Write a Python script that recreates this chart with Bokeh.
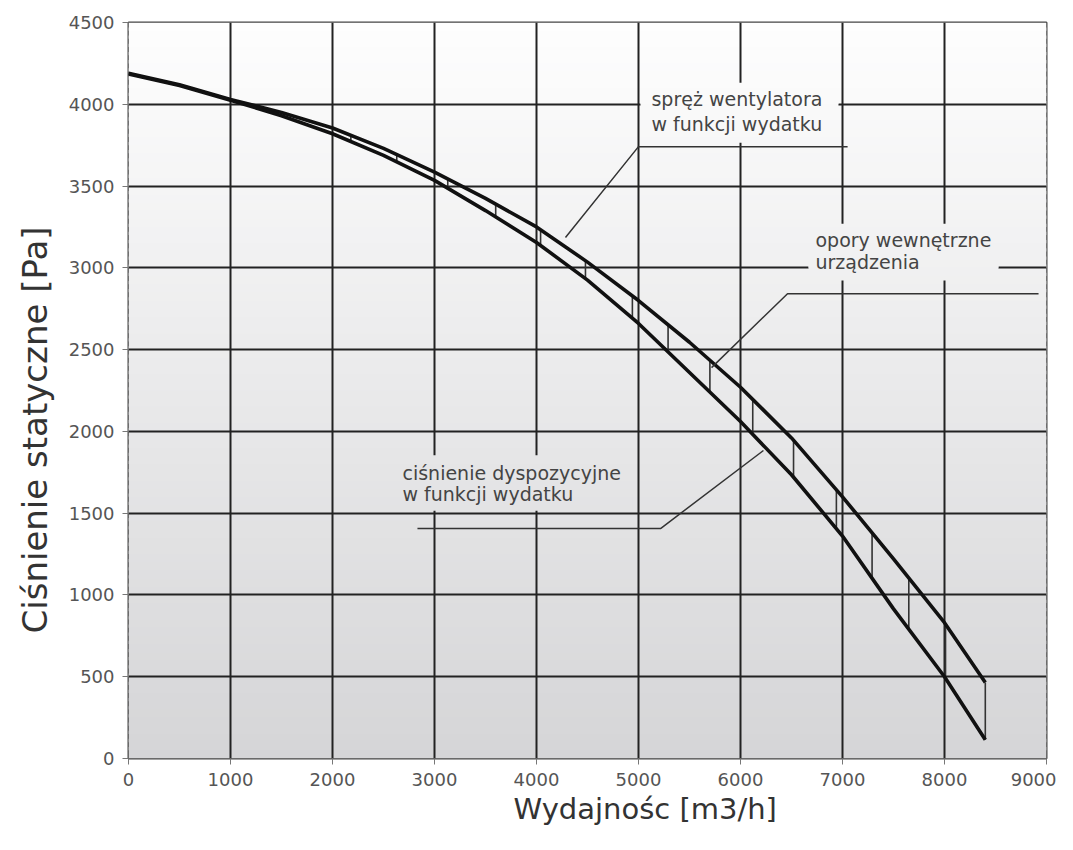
import numpy as np
from bokeh.plotting import figure
from bokeh.models import FixedTicker, Title
from bokeh.core.properties import value
from bokeh.embed import file_html
from bokeh.resources import INLINE

# ---- data ----
flow = [0, 500, 1000, 1500, 2000, 2500, 3000, 3500, 4000, 4500, 5000, 5500, 6000, 6500, 7000, 7500, 8000, 8400]
fan_pressure = [4190, 4120, 4030, 3950, 3855, 3730, 3585, 3425, 3250, 3035, 2800, 2545, 2270, 1960, 1600, 1220, 830, 465]
avail_pressure = [4185, 4115, 4025, 3930, 3820, 3688, 3535, 3350, 3155, 2925, 2660, 2360, 2060, 1735, 1360, 915, 500, 115]
hatch_flow = [2180, 2630, 3130, 3600, 4040, 4480, 4940, 5290, 5700, 6120, 6520, 6940, 7290, 7650, 8010, 8400]
x_ticks = [0, 1000, 2000, 3000, 4000, 5000, 6000, 7000, 8000, 9000]
y_ticks = [0, 500, 1000, 1500, 2000, 2500, 3000, 3500, 4000, 4500]

ann_fan = ["spręż wentylatora", "w funkcji wydatku"]
ann_int = ["opory wewnętrzne", "urządzenia"]
ann_avail = ["ciśnienie dyspozycyjne", "w funkcji wydatku"]

FONT = "DejaVu Sans"

p = figure(frame_width=918, frame_height=736, x_range=(0, 9000), y_range=(0, 4500),
           output_backend="svg", toolbar_location=None,
           min_border_left=128, min_border_top=22, min_border_right=10, min_border_bottom=10)
p.background_fill_color = "white"
p.border_fill_color = "white"

# ---- vertical gradient background (overlapping bands, drawn bottom-up, no seams) ----
band = 50
bot_c = np.array([213, 213, 215])
top_c = np.array([254, 254, 254])
def band_color(yc):
    t = yc / 4500.0
    c = (bot_c + (top_c - bot_c) * t).round().astype(int)
    return "#%02x%02x%02x" % tuple(c)

b0 = np.arange(0, 4500, band)
p.quad(left=0, right=9000, bottom=b0, top=np.minimum(b0 + band + 20, 4500),
       fill_color=[band_color(b + band / 2) for b in b0], line_color=None, level="image")

# ---- grid ----
for g in (p.xgrid, p.ygrid):
    g.grid_line_color = "#222222"
    g.grid_line_width = 2
    g.grid_line_alpha = 1.0
p.xgrid.ticker = FixedTicker(ticks=x_ticks)
p.ygrid.ticker = FixedTicker(ticks=y_ticks)

# ---- axes ----
p.xaxis.ticker = FixedTicker(ticks=x_ticks)
p.yaxis.ticker = FixedTicker(ticks=y_ticks)
for ax in (p.xaxis, p.yaxis):
    ax.axis_line_color = None
    ax.major_tick_line_color = "#777777"
    ax.major_tick_out = 6
    ax.major_tick_in = 0
    ax.minor_tick_line_color = None
    ax.major_label_text_font = FONT
    ax.major_label_text_font_size = "18px"
    ax.major_label_text_color = "#555555"
p.xaxis.major_label_standoff = 8
p.yaxis.major_label_standoff = 8
p.outline_line_color = "#444444"
p.outline_line_width = 2

p.add_layout(Title(text="Wydajnośc [m3/h]", align="left", offset=385, standoff=2,
                   text_font=FONT, text_font_size="29px", text_font_style="normal",
                   text_color="#333333"), "below")
p.add_layout(Title(text="Ciśnienie statyczne [Pa]", align="left", offset=125, standoff=22,
                   text_font=FONT, text_font_size="34px", text_font_style="normal",
                   text_color="#333333"), "left")

# ---- annotation boxes (mask the grid behind the texts) ----
def mask(x0, x1, y0, y1):
    for b in b0:
        lo, hi = max(y0, b), min(y1, b + band)
        if hi > lo:
            p.quad(left=x0, right=x1, bottom=lo, top=min(hi + 15, y1),
                   fill_color=band_color(b + band / 2), line_color=None)

mask(5020, 6960, 3765, 4132)
mask(6667, 8529, 2922, 3270)
mask(2600, 4940, 1515, 1852)

# ---- hatch between curves ----
h_top = np.interp(hatch_flow, flow, fan_pressure)
h_bot = np.interp(hatch_flow, flow, avail_pressure)
p.segment(x0=hatch_flow, y0=h_bot, x1=hatch_flow, y1=h_top, line_color="#333333", line_width=1.6)

# ---- curves ----
p.line(flow, fan_pressure, line_color="#111111", line_width=3.6, line_join="round")
p.line(flow, avail_pressure, line_color="#111111", line_width=3.6, line_join="round")

# ---- leader lines ----
lc = "#333333"
p.line([4284, 5000, 7050], [3185, 3741, 3741], line_color=lc, line_width=1.5)
p.line([5716, 6461, 8922], [2390, 2842, 2842], line_color=lc, line_width=1.5)
p.line([2833, 5216, 6225], [1406, 1406, 1883], line_color=lc, line_width=1.5)

# ---- annotation texts ----
def txt(x, ys, lines):
    p.text(x=[x] * len(lines), y=ys, text=lines, text_font=value(FONT), text_font_size="19px",
           text_color="#444444", text_align="left", text_baseline="middle")

txt(5127, [4034, 3881], ann_fan)
txt(6735, [3172, 3038], ann_int)
txt(2686, [1748, 1620], ann_avail)

open("out.html", "w").write(file_html(p, INLINE))
